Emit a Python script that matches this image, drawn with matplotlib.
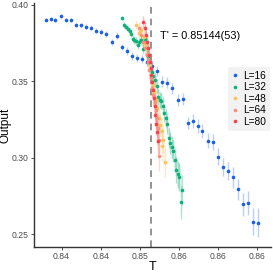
import numpy as np
import matplotlib
matplotlib.use("Agg")
import matplotlib.pyplot as plt
from matplotlib.lines import Line2D

plt.rcParams['font.family'] = ['Liberation Sans', 'DejaVu Sans']

# --- data ---
t_16 = [0.83796, 0.83860, 0.83923, 0.83991, 0.84055, 0.84119, 0.84182, 0.84251,
        0.84315, 0.84379, 0.84446, 0.84510, 0.84574, 0.84642, 0.84705, 0.84769,
        0.84833, 0.84897, 0.84966, 0.85029, 0.85093, 0.85157, 0.85221, 0.85284,
        0.85348, 0.85412, 0.85483, 0.85547, 0.85611, 0.85675, 0.85739, 0.85802,
        0.85869, 0.85932, 0.85996, 0.86062, 0.86126, 0.86194, 0.86258, 0.86321,
        0.86389, 0.86453, 0.86517]
out_16 = [0.3902, 0.3910, 0.3900, 0.3928, 0.3900, 0.3900, 0.3869, 0.3867,
          0.3858, 0.3851, 0.3832, 0.3825, 0.3812, 0.3758, 0.3799, 0.3725,
          0.3699, 0.3668, 0.3651, 0.3646, 0.3627, 0.3600, 0.3568, 0.3498,
          0.3491, 0.3454, 0.3380, 0.3382, 0.3227, 0.3240, 0.3207, 0.3175,
          0.3111, 0.3103, 0.3006, 0.2939, 0.2913, 0.2871, 0.2793, 0.2696,
          0.2705, 0.2581, 0.2574]
err_16 = [0.0012, 0.0012, 0.0012, 0.0013, 0.0013, 0.0013, 0.0014, 0.0015,
          0.0015, 0.0016, 0.0017, 0.0018, 0.0019, 0.0020, 0.0021, 0.0022,
          0.0024, 0.0025, 0.0026, 0.0028, 0.0029, 0.0030, 0.0032, 0.0034,
          0.0035, 0.0037, 0.0039, 0.0040, 0.0042, 0.0044, 0.0046, 0.0048,
          0.0050, 0.0053, 0.0056, 0.0059, 0.0062, 0.0066, 0.0070, 0.0075,
          0.0080, 0.0088, 0.0095]

t_32 = [0.84772, 0.84797, 0.84823, 0.84848, 0.84874, 0.84893, 0.84912, 0.84931,
        0.84957, 0.84976, 0.84995, 0.85020, 0.85046, 0.85071, 0.85091, 0.85110,
        0.85135, 0.85154, 0.85173, 0.85199, 0.85218, 0.85237, 0.85256, 0.85276,
        0.85295, 0.85314, 0.85333, 0.85352, 0.85371, 0.85390, 0.85409, 0.85429,
        0.85448, 0.85467, 0.85486, 0.85505, 0.85540, 0.85527]
out_32 = [0.3915, 0.3869, 0.3856, 0.3843, 0.3830, 0.3810, 0.3777, 0.3771,
          0.3764, 0.3738, 0.3758, 0.3771, 0.3712, 0.3777, 0.3673, 0.3666,
          0.3620, 0.3561, 0.3535, 0.3509, 0.3469, 0.3397, 0.3378, 0.3371,
          0.3338, 0.3293, 0.3260, 0.3221, 0.3129, 0.3096, 0.3070, 0.3044,
          0.2985, 0.2919, 0.2893, 0.2873, 0.2788, 0.2710]
err_32 = [0.0015, 0.0018, 0.0018, 0.0020, 0.0020, 0.0022, 0.0022, 0.0024,
          0.0025, 0.0026, 0.0028, 0.0028, 0.0030, 0.0032, 0.0034, 0.0035,
          0.0036, 0.0040, 0.0042, 0.0045, 0.0048, 0.0050, 0.0052, 0.0055,
          0.0058, 0.0060, 0.0062, 0.0065, 0.0068, 0.0070, 0.0072, 0.0075,
          0.0080, 0.0085, 0.0088, 0.0090, 0.0100, 0.0110]

t_48 = [0.84957, 0.84995, 0.85020, 0.85052, 0.85071, 0.85091, 0.85110, 0.85129,
        0.85148, 0.85167, 0.85186, 0.85205, 0.85224, 0.85244, 0.85263, 0.85282,
        0.85301, 0.85288, 0.85327]
out_48 = [0.3869, 0.3817, 0.3836, 0.3790, 0.3745, 0.3725, 0.3673, 0.3607,
          0.3542, 0.3476, 0.3430, 0.3378, 0.3325, 0.3260, 0.3214, 0.3175,
          0.3116, 0.3076, 0.2972]
err_48 = [0.0030, 0.0035, 0.0035, 0.0040, 0.0042, 0.0045, 0.0048, 0.0050,
          0.0055, 0.0058, 0.0060, 0.0065, 0.0070, 0.0075, 0.0080, 0.0085,
          0.0090, 0.0095, 0.0100]

t_64 = [0.84995, 0.85020, 0.85046, 0.85071, 0.85091, 0.85110, 0.85122, 0.85142,
        0.85161, 0.85173, 0.85193, 0.85205, 0.85218, 0.85231, 0.85244, 0.85250]
out_64 = [0.3849, 0.3804, 0.3758, 0.3718, 0.3673, 0.3627, 0.3574, 0.3522,
          0.3456, 0.3410, 0.3365, 0.3312, 0.3260, 0.3194, 0.3116, 0.3011]
err_64 = [0.0040, 0.0042, 0.0045, 0.0048, 0.0050, 0.0055, 0.0058, 0.0060,
          0.0065, 0.0070, 0.0075, 0.0080, 0.0085, 0.0090, 0.0095, 0.0100]

t_80 = [0.85046, 0.85065, 0.85084, 0.85097, 0.85110, 0.85122, 0.85129, 0.85142,
        0.85148, 0.85161, 0.85167, 0.85180, 0.85193, 0.85199, 0.85212, 0.85218,
        0.85231]
out_80 = [0.3889, 0.3849, 0.3804, 0.3758, 0.3718, 0.3673, 0.3627, 0.3587,
          0.3542, 0.3496, 0.3443, 0.3391, 0.3338, 0.3280, 0.3221, 0.3168,
          0.3109]
err_80 = [0.0040, 0.0042, 0.0045, 0.0048, 0.0050, 0.0052, 0.0055, 0.0058,
          0.0060, 0.0062, 0.0065, 0.0068, 0.0070, 0.0072, 0.0075, 0.0080,
          0.0085]

sizes = ["L=16", "L=32", "L=48", "L=64", "L=80"]
colors = ["#1a5fe8", "#10b078", "#fbc35a", "#fa8f78", "#f5414d"]

t_crit = 0.85144
crit_text = "T' = 0.85144(53)"

x_ticks = [0.840, 0.845, 0.850, 0.855, 0.860, 0.865]
x_ticklabels = ["0.84", "0.84", "0.85", "0.86", "0.86", "0.86"]
y_ticks = [0.25, 0.30, 0.35, 0.40]
y_ticklabels = ["0.25", "0.30", "0.35", "0.40"]

series = [(t_16, out_16, err_16), (t_32, out_32, err_32), (t_48, out_48, err_48),
          (t_64, out_64, err_64), (t_80, out_80, err_80)]

fig = plt.figure(figsize=(2.73, 2.73), dpi=100)
ax = fig.add_axes([0.123, 0.095, 0.870, 0.894])

for i, ((t, o, e), c) in enumerate(zip(series, colors)):
    if i > 0:
        # dense sizes: the overlapping bars read as a light band
        lo = np.array(o) - np.array(e)
        hi = np.array(o) + np.array(e)
        ax.fill_between(t, lo, hi, color=c, alpha=0.12, linewidth=0, zorder=1.5)
    ax.errorbar(t, o, yerr=e, fmt="none", ecolor=c, elinewidth=1.0, alpha=0.3, zorder=2)
    ax.plot(t, o, "o", color=c, markersize=2.6, markeredgewidth=0, zorder=3)

ax.axvline(t_crit, color="#808080", linestyle=(0, (4, 3)), linewidth=1.2, zorder=1)
ax.text(0.85255, 0.3775, crit_text, fontsize=7.8, color="black")

ax.set_xlim(0.83643, 0.86679)
ax.set_ylim(0.2415, 0.4013)
ax.set_xticks(x_ticks)
ax.set_xticklabels(x_ticklabels)
ax.set_yticks(y_ticks)
ax.set_yticklabels(y_ticklabels)
ax.tick_params(labelsize=6.2, labelcolor="#4d4d4d", color="#333333", length=2, width=0.6, pad=1.5)
ax.set_xlabel("T", fontsize=9, labelpad=0)
ax.set_ylabel("Output", fontsize=8.5, labelpad=0.5)

for s in ["top", "right"]:
    ax.spines[s].set_visible(False)
for s in ["left", "bottom"]:
    ax.spines[s].set_color("#333333")
    ax.spines[s].set_linewidth(1.0)

handles = [Line2D([], [], marker="o", linestyle="none", color=c, markersize=2.6,
                  markeredgewidth=0) for c in colors]
leg = ax.legend(handles, sizes, loc="center left", bbox_to_anchor=(0.82, 0.608),
                fontsize=7.3, frameon=True, handlelength=0.6, handletextpad=0.5,
                labelspacing=0.15, borderpad=0.4, borderaxespad=0)
leg.get_frame().set_facecolor("#f2f2f2")
leg.get_frame().set_edgecolor("none")
leg.get_frame().set_alpha(1)

fig.savefig("out.png", dpi=100)
